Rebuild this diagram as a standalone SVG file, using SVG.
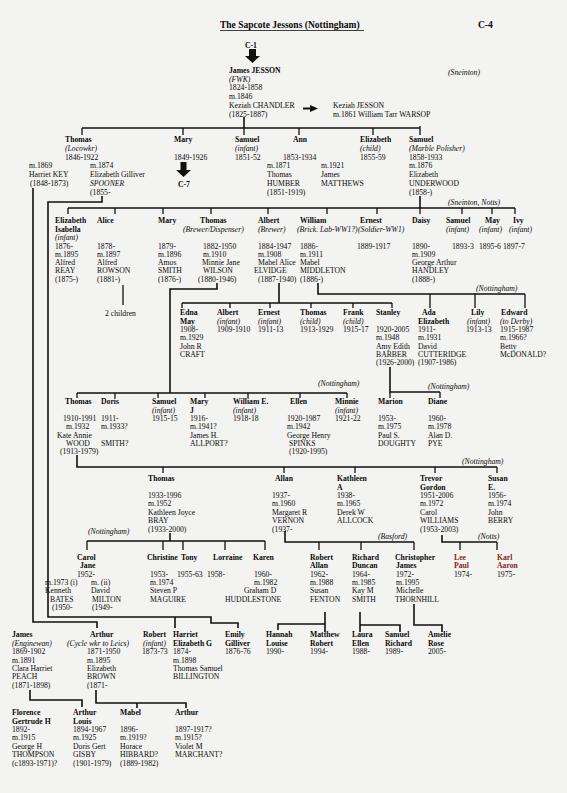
<svg xmlns="http://www.w3.org/2000/svg" width="567" height="793" viewBox="0 0 567 793">
<style>
text{font-family:"Liberation Serif","Times New Roman",serif;font-size:7.7px;fill:#0a0a0a}
.b{font-weight:bold}
.i{font-style:italic}
.r{fill:#8a1c1c}
.ln{stroke:#111;stroke-width:1.6;fill:none}
.tk{stroke:#111;stroke-width:1.3;fill:none}
</style>
<rect width="567" height="793" fill="#f3f3f1"/>
<g id="header">
<text x="220" y="28" class="b" style="font-size:9.5px">The Sapcote Jessons (Nottingham)</text>
<line x1="220" y1="30.5" x2="364" y2="30.5" stroke="#111" stroke-width="0.8"/>
<text x="478" y="28" class="b" style="font-size:9.5px">C-4</text>
</g>
<g id="connectors">
<path class="ln" d="M244 117V128M82 128H420"/>
<path class="tk" d="M82 128V135M183 128V135M244 128V135M299 128V135M373 128V135M420 126V135"/>
<path class="ln" d="M33 188V622H97V628"/>
<path class="ln" d="M102 196V202H48V617H211V623H238V628M175 617V628"/>
<path class="ln" d="M420 196V208M68 208H515"/>
<path class="tk" d="M68 208V214M115 208V214M163 208V214M211 208V214M268 208V214M327 208V214M377 208V214M420 208V214M462 208V214M492 208V214M515 208V214"/>
<path class="tk" d="M123 285V305"/>
<path class="ln" d="M217 283V289H170V393M77 393H347"/>
<path class="tk" d="M77 393V398M115 393V398M158 393V398M205 393V398M248 393V398M300 393V398M347 393V398"/>
<path class="ln" d="M279 283V303M182 303H392"/>
<path class="tk" d="M182 303V308M230 303V308M270 303V308M311 303V308M353 303V308M392 303V308"/>
<path class="ln" d="M318 283V294H525"/>
<path class="tk" d="M430 294V308M475 294V308M525 294V308"/>
<path class="ln" d="M390 367V392H440"/>
<path class="tk" d="M390 392V398M440 392V398"/>
<path class="ln" d="M77 455V467H497"/>
<path class="tk" d="M163 467V473M284 467V473M355 467V473M435 467V473M497 467V473"/>
<path class="ln" d="M170 533V541M87 541H265"/>
<path class="tk" d="M87 541V550M163 541V550M183 541V550M225 541V550M265 541V550"/>
<path class="ln" d="M285 531V542H414"/>
<path class="tk" d="M319 542V550M361 542V550M414 542V550"/>
<path class="ln" d="M442 535V542H497"/>
<path class="tk" d="M460 542V550M497 542V550"/>
<path class="ln" d="M325 612V632M325 624H278V630"/>
<path class="ln" d="M360 612V632M360 625H400V632"/>
<path class="ln" d="M414 604V625H442V632"/>
<path class="ln" d="M30 690V700H82V707"/>
<path class="ln" d="M96 690V703H186V708M137 703V708"/>
</g>
<g id="arrows" fill="#111">
<text x="245" y="48" class="b">C-1</text>
<polygon points="249,49 256,49 256,56 260,56 252.5,63 245,56 249,56"/>
<polygon points="180.5,162 186.5,162 186.5,170 191,170 183.5,177 176,170 180.5,170"/>
<path d="M303 108.5H311" stroke="#111" stroke-width="2"/>
<polygon points="310,105 318,108.5 310,112"/>
</g>
<g id="james">
<text x="229" y="73" class="b">James JESSON</text>
<text x="229" y="81.5" class="i">(FWK)</text>
<text x="229" y="90">1824-1858</text>
<text x="229" y="99">m.1846</text>
<text x="229" y="108">Keziah CHANDLER</text>
<text x="229" y="116.5">(1825-1887)</text>
</g>
<g id="keziah">
<text x="333" y="108">Keziah JESSON</text>
<text x="333" y="116.5">m.1861 William Tarr WARSOP</text>
</g>
<text x="448" y="75" class="i">(Sneinton)</text>
<g id="thomas1846">
<text x="65" y="142" class="b">Thomas</text>
<text x="65" y="150.5" class="i">(Locowkr)</text>
<text x="65" y="159.5">1846-1922</text>
<text x="29" y="168">m.1869</text>
<text x="29" y="177">Harriet KEY</text>
<text x="30" y="186">(1848-1873)</text>
<text x="90" y="168">m.1874</text>
<text x="90" y="177">Elizabeth Gilliver</text>
<text x="90" y="186" class="i">SPOONER</text>
<text x="90" y="195">(1855-</text>
</g>
<g id="mary1849">
<text x="174" y="142" class="b">Mary</text>
<text x="174" y="159.5">1849-1926</text>
<text x="178" y="187" class="b">C-7</text>
</g>
<g id="samuel1851">
<text x="235" y="142" class="b">Samuel</text>
<text x="235" y="150.5" class="i">(infant)</text>
<text x="235" y="159.5">1851-52</text>
</g>
<g id="ann1853">
<text x="293" y="142" class="b">Ann</text>
<text x="283" y="159.5">1853-1934</text>
<text x="267" y="168">m.1871</text>
<text x="267" y="177">Thomas</text>
<text x="267" y="186">HUMBER</text>
<text x="267" y="195">(1851-1919)</text>
<text x="321" y="168">m.1921</text>
<text x="321" y="177">James</text>
<text x="321" y="186">MATTHEWS</text>
</g>
<g id="elizabeth1855">
<text x="360" y="142" class="b">Elizabeth</text>
<text x="360" y="150.5" class="i">(child)</text>
<text x="360" y="159.5">1855-59</text>
</g>
<g id="samuel1858">
<text x="409" y="142" class="b">Samuel</text>
<text x="409" y="150.5" class="i">(Marble Polisher)</text>
<text x="409" y="159.5">1858-1933</text>
<text x="409" y="168">m.1876</text>
<text x="409" y="177">Elizabeth</text>
<text x="409" y="186">UNDERWOOD</text>
<text x="409" y="195">(1858-)</text>
</g>
<text x="448" y="205" class="i">(Sneinton, Notts)</text>
<g id="elizabeth1876">
<text x="55" y="223" class="b">Elizabeth</text>
<text x="55" y="231.5" class="b">Isabella</text>
<text x="55" y="240" class="i">(infant)</text>
<text x="55" y="248.5">1876-</text>
<text x="55" y="256.5">m.1895</text>
<text x="55" y="265">Alfred</text>
<text x="55" y="273">REAY</text>
<text x="55" y="281.5">(1875-)</text>
</g>
<g id="alice1878">
<text x="97" y="223" class="b">Alice</text>
<text x="97" y="248.5">1878-</text>
<text x="97" y="256.5">m.1897</text>
<text x="97" y="265">Alfred</text>
<text x="97" y="273">ROWSON</text>
<text x="97" y="281.5">(1881-)</text>
<text x="105" y="316">2 children</text>
</g>
<g id="mary1879">
<text x="158" y="223" class="b">Mary</text>
<text x="158" y="248.5">1879-</text>
<text x="158" y="256.5">m.1896</text>
<text x="158" y="265">Amos</text>
<text x="158" y="273">SMITH</text>
<text x="158" y="281.5">(1876-)</text>
</g>
<g id="thomas1882">
<text x="200" y="223" class="b">Thomas</text>
<text x="183" y="231.5" class="i">(Brewer/Dispenser)</text>
<text x="203" y="248.5">1882-1950</text>
<text x="203" y="256.5">m.1910</text>
<text x="202" y="265">Minnie Jane</text>
<text x="203" y="273">WILSON</text>
<text x="198" y="281.5">(1880-1946)</text>
</g>
<g id="albert1884">
<text x="258" y="223" class="b">Albert</text>
<text x="258" y="231.5" class="i">(Brewer)</text>
<text x="258" y="248.5">1884-1947</text>
<text x="258" y="256.5">m.1908</text>
<text x="258" y="265">Mabel Alice</text>
<text x="254" y="273">ELVIDGE</text>
<text x="258" y="281.5">(1887-1940)</text>
</g>
<g id="william1886">
<text x="300" y="223" class="b">William</text>
<text x="297" y="231.5" class="i">(Brick. Lab-WW1?)</text>
<text x="300" y="248.5">1886-</text>
<text x="300" y="256.5">m.1911</text>
<text x="300" y="265">Mabel</text>
<text x="300" y="273">MIDDLETON</text>
<text x="300" y="281.5">(1886-)</text>
</g>
<g id="ernest1889">
<text x="360" y="223" class="b">Ernest</text>
<text x="358" y="231.5" class="i">(Soldier-WW1)</text>
<text x="357" y="248.5">1889-1917</text>
</g>
<g id="daisy1890">
<text x="412" y="223" class="b">Daisy</text>
<text x="412" y="248.5">1890-</text>
<text x="412" y="256.5">m.1909</text>
<text x="412" y="265">George Arthur</text>
<text x="412" y="273">HANDLEY</text>
<text x="412" y="281.5">(1888-)</text>
</g>
<g id="samuel1893">
<text x="446" y="223" class="b">Samuel</text>
<text x="446" y="231.5" class="i">(infant)</text>
<text x="452" y="248.5">1893-3</text>
</g>
<g id="may1895">
<text x="485" y="223" class="b">May</text>
<text x="479" y="231.5" class="i">(infant)</text>
<text x="479" y="248.5">1895-6</text>
</g>
<g id="ivy1897">
<text x="513" y="223" class="b">Ivy</text>
<text x="509" y="231.5" class="i">(infant)</text>
<text x="503" y="248.5">1897-7</text>
</g>
<text x="476" y="291" class="i">(Nottingham)</text>
<g id="edna1908">
<text x="180" y="315" class="b">Edna</text>
<text x="180" y="324" class="b">May</text>
<text x="180" y="332">1908-</text>
<text x="180" y="340">m.1929</text>
<text x="180" y="349">John R</text>
<text x="180" y="357">CRAFT</text>
</g>
<g id="albert1909">
<text x="217" y="315" class="b">Albert</text>
<text x="217" y="324" class="i">(infant)</text>
<text x="217" y="332">1909-1910</text>
</g>
<g id="ernest1911">
<text x="258" y="315" class="b">Ernest</text>
<text x="258" y="324" class="i">(infant)</text>
<text x="258" y="332">1911-13</text>
</g>
<g id="thomas1913">
<text x="300" y="315" class="b">Thomas</text>
<text x="300" y="324" class="i">(child)</text>
<text x="300" y="332">1913-1929</text>
</g>
<g id="frank1915">
<text x="343" y="315" class="b">Frank</text>
<text x="343" y="324" class="i">(child)</text>
<text x="343" y="332">1915-17</text>
</g>
<g id="stanley1920">
<text x="376" y="315" class="b">Stanley</text>
<text x="376" y="332">1920-2005</text>
<text x="376" y="340">m.1948</text>
<text x="376" y="349">Amy Edith</text>
<text x="376" y="357">BARBER</text>
<text x="376" y="365">(1926-2000)</text>
</g>
<g id="ada1911">
<text x="422" y="315" class="b">Ada</text>
<text x="418" y="324" class="b">Elizabeth</text>
<text x="418" y="332">1911-</text>
<text x="418" y="340">m.1931</text>
<text x="418" y="349">David</text>
<text x="418" y="357">CUTTERIDGE</text>
<text x="418" y="365">(1907-1986)</text>
</g>
<g id="lily1913">
<text x="471" y="315" class="b">Lily</text>
<text x="467" y="324" class="i">(infant)</text>
<text x="466" y="332">1913-13</text>
</g>
<g id="edward1915">
<text x="501" y="315" class="b">Edward</text>
<text x="500" y="324" class="i">(to Derby)</text>
<text x="500" y="332">1915-1987</text>
<text x="500" y="340">m.1966?</text>
<text x="500" y="349">Betty</text>
<text x="500" y="357">McDONALD?</text>
</g>
<text x="428" y="389" class="i">(Nottingham)</text>
<text x="318" y="386" class="i">(Nottingham)</text>
<g id="thomas1910">
<text x="65" y="404" class="b">Thomas</text>
<text x="63" y="421">1910-1991</text>
<text x="66" y="429">m.1932</text>
<text x="57" y="437.5">Kate Annie</text>
<text x="66" y="445.5">WOOD</text>
<text x="60" y="454">(1913-1979)</text>
</g>
<g id="doris1911">
<text x="101" y="404" class="b">Doris</text>
<text x="101" y="421">1911-</text>
<text x="101" y="429">m.1933?</text>
<text x="101" y="445.5">SMITH?</text>
</g>
<g id="samuel1915">
<text x="152" y="404" class="b">Samuel</text>
<text x="152" y="412.5" class="i">(infant)</text>
<text x="152" y="421">1915-15</text>
</g>
<g id="maryj1916">
<text x="190" y="404" class="b">Mary</text>
<text x="190" y="412.5" class="b">J</text>
<text x="190" y="421">1916-</text>
<text x="190" y="429">m.1941?</text>
<text x="190" y="437.5">James H.</text>
<text x="190" y="445.5">ALLPORT?</text>
</g>
<g id="williame1918">
<text x="233" y="404" class="b">William E.</text>
<text x="233" y="412.5" class="i">(infant)</text>
<text x="233" y="421">1918-18</text>
</g>
<g id="ellen1920">
<text x="290" y="404" class="b">Ellen</text>
<text x="287" y="421">1920-1987</text>
<text x="287" y="429">m.1942</text>
<text x="287" y="437.5">George Henry</text>
<text x="289" y="445.5">SPINKS</text>
<text x="289" y="454">(1920-1995)</text>
</g>
<g id="minnie1921">
<text x="335" y="404" class="b">Minnie</text>
<text x="335" y="412.5" class="i">(infant)</text>
<text x="335" y="421">1921-22</text>
</g>
<g id="marion1953">
<text x="378" y="404" class="b">Marion</text>
<text x="378" y="421">1953-</text>
<text x="378" y="429">m.1975</text>
<text x="378" y="437.5">Paul S.</text>
<text x="378" y="445.5">DOUGHTY</text>
</g>
<g id="diane1960">
<text x="428" y="404" class="b">Diane</text>
<text x="428" y="421">1960-</text>
<text x="428" y="429">m.1978</text>
<text x="428" y="437.5">Alan D.</text>
<text x="428" y="445.5">PYE</text>
</g>
<text x="462" y="464" class="i">(Nottingham)</text>
<g id="thomas1933">
<text x="148" y="481" class="b">Thomas</text>
<text x="148" y="498">1933-1996</text>
<text x="148" y="506">m.1952</text>
<text x="148" y="514.5">Kathleen Joyce</text>
<text x="148" y="523">BRAY</text>
<text x="148" y="531.5">(1933-2000)</text>
</g>
<g id="allan1937">
<text x="275" y="481" class="b">Allan</text>
<text x="272" y="498">1937-</text>
<text x="272" y="506">m.1960</text>
<text x="272" y="514.5">Margaret R</text>
<text x="272" y="523">VERNON</text>
<text x="272" y="531.5">(1937-</text>
</g>
<g id="kathleen1938">
<text x="337" y="481" class="b">Kathleen</text>
<text x="337" y="489.5" class="b">A</text>
<text x="337" y="498">1938-</text>
<text x="337" y="506">m.1965</text>
<text x="337" y="514.5">Derek W</text>
<text x="337" y="523">ALLCOCK</text>
</g>
<g id="trevor1951">
<text x="420" y="481" class="b">Trevor</text>
<text x="420" y="489.5" class="b">Gordon</text>
<text x="420" y="498">1951-2006</text>
<text x="420" y="506">m.1972</text>
<text x="420" y="514.5">Carol</text>
<text x="420" y="523">WILLIAMS</text>
<text x="420" y="531.5">(1953-2003)</text>
</g>
<g id="susan1956">
<text x="488" y="481" class="b">Susan</text>
<text x="488" y="489.5" class="b">E.</text>
<text x="488" y="498">1956-</text>
<text x="488" y="506">m.1974</text>
<text x="488" y="514.5">John</text>
<text x="488" y="523">BERRY</text>
</g>
<text x="88" y="534" class="i">(Nottingham)</text>
<text x="378" y="539" class="i">(Basford)</text>
<text x="478" y="539" class="i">(Notts)</text>
<g id="carol1952">
<text x="77" y="560" class="b">Carol</text>
<text x="80" y="568" class="b">Jane</text>
<text x="77" y="576.5">1952-</text>
<text x="45" y="585">m.1973 (i)</text>
<text x="45" y="593">Kenneth</text>
<text x="50" y="601.5">BATES</text>
<text x="52" y="610">(1950-</text>
<text x="91" y="585">m. (ii)</text>
<text x="91" y="593">David</text>
<text x="92" y="601.5">MILTON</text>
<text x="92" y="610">(1949-</text>
</g>
<g id="christine1953">
<text x="147" y="560" class="b">Christine</text>
<text x="150" y="576.5">1953-</text>
<text x="150" y="585">m.1974</text>
<text x="150" y="593">Steven P</text>
<text x="150" y="601.5">MAGUIRE</text>
</g>
<g id="tony1955">
<text x="181" y="560" class="b">Tony</text>
<text x="177" y="576.5">1955-63</text>
</g>
<g id="lorraine1958">
<text x="213" y="560" class="b">Lorraine</text>
<text x="207" y="576.5">1958-</text>
</g>
<g id="karen1960">
<text x="253" y="560" class="b">Karen</text>
<text x="254" y="576.5">1960-</text>
<text x="254" y="585">m.1982</text>
<text x="244" y="593">Graham D</text>
<text x="225" y="601.5">HUDDLESTONE</text>
</g>
<g id="robert1962">
<text x="310" y="560" class="b">Robert</text>
<text x="310" y="568" class="b">Allan</text>
<text x="310" y="576.5">1962-</text>
<text x="310" y="585">m.1988</text>
<text x="310" y="593">Susan</text>
<text x="310" y="601.5">FENTON</text>
</g>
<g id="richard1964">
<text x="352" y="560" class="b">Richard</text>
<text x="352" y="568" class="b">Duncan</text>
<text x="352" y="576.5">1964-</text>
<text x="352" y="585">m.1985</text>
<text x="352" y="593">Kay M</text>
<text x="352" y="601.5">SMITH</text>
</g>
<g id="christopher1972">
<text x="395" y="560" class="b">Christopher</text>
<text x="396" y="568" class="b">James</text>
<text x="396" y="576.5">1972-</text>
<text x="396" y="585">m.1995</text>
<text x="396" y="593">Michelle</text>
<text x="395" y="601.5">THORNHILL</text>
</g>
<g id="lee1974">
<text x="454" y="560" class="b r">Lee</text>
<text x="454" y="568" class="b r">Paul</text>
<text x="454" y="576.5">1974-</text>
</g>
<g id="karl1975">
<text x="497" y="560" class="b r">Karl</text>
<text x="497" y="568" class="b r">Aaron</text>
<text x="497" y="576.5">1975-</text>
</g>
<g id="hannah1990">
<text x="266" y="637" class="b">Hannah</text>
<text x="266" y="645.5" class="b">Louise</text>
<text x="266" y="654">1990-</text>
</g>
<g id="matthew1994">
<text x="310" y="637" class="b">Matthew</text>
<text x="310" y="645.5" class="b">Robert</text>
<text x="310" y="654">1994-</text>
</g>
<g id="laura1988">
<text x="352" y="637" class="b">Laura</text>
<text x="352" y="645.5" class="b">Ellen</text>
<text x="352" y="654">1988-</text>
</g>
<g id="samuel1989">
<text x="385" y="637" class="b">Samuel</text>
<text x="385" y="645.5" class="b">Richard</text>
<text x="385" y="654">1989-</text>
</g>
<g id="amelie2005">
<text x="428" y="637" class="b">Amelie</text>
<text x="428" y="645.5" class="b">Rose</text>
<text x="428" y="654">2005-</text>
</g>
<g id="james1869">
<text x="12" y="637" class="b">James</text>
<text x="12" y="645.5" class="i">(Enginewan)</text>
<text x="12" y="654">1869-1902</text>
<text x="12" y="662.5">m.1891</text>
<text x="12" y="671">Clara Harriet</text>
<text x="12" y="679">PEACH</text>
<text x="12" y="687.5">(1871-1898)</text>
</g>
<g id="arthur1871">
<text x="90" y="637" class="b">Arthur</text>
<text x="67" y="645.5" class="i">(Cycle wkr to Leics)</text>
<text x="87" y="654">1871-1950</text>
<text x="87" y="662.5">m.1895</text>
<text x="87" y="671">Elizabeth</text>
<text x="87" y="679">BROWN</text>
<text x="87" y="687.5">(1871-</text>
</g>
<g id="robert1873">
<text x="143" y="637" class="b">Robert</text>
<text x="143" y="645.5" class="i">(infant)</text>
<text x="142" y="654">1873-73</text>
</g>
<g id="harriet1874">
<text x="173" y="637" class="b">Harriet</text>
<text x="173" y="645.5" class="b">Elizabeth G</text>
<text x="173" y="654">1874-</text>
<text x="173" y="662.5">m.1898</text>
<text x="173" y="671">Thomas Samuel</text>
<text x="173" y="679">BILLINGTON</text>
</g>
<g id="emily1876">
<text x="225" y="637" class="b">Emily</text>
<text x="225" y="645.5" class="b">Gilliver</text>
<text x="225" y="654">1876-76</text>
</g>
<g id="florence1892">
<text x="12" y="715" class="b">Florence</text>
<text x="12" y="723.5" class="b">Gertrude H</text>
<text x="12" y="732">1892-</text>
<text x="12" y="740">m.1915</text>
<text x="12" y="748.5">George H</text>
<text x="12" y="757">THOMPSON</text>
<text x="12" y="765.5">(c1893-1971)?</text>
</g>
<g id="arthur1894">
<text x="73" y="715" class="b">Arthur</text>
<text x="73" y="723.5" class="b">Louis</text>
<text x="73" y="732">1894-1967</text>
<text x="73" y="740">m.1925</text>
<text x="73" y="748.5">Doris Gert</text>
<text x="73" y="757">GISBY</text>
<text x="73" y="765.5">(1901-1979)</text>
</g>
<g id="mabel1896">
<text x="120" y="715" class="b">Mabel</text>
<text x="120" y="732">1896-</text>
<text x="120" y="740">m.1919?</text>
<text x="120" y="748.5">Horace</text>
<text x="120" y="757">HIBBARD?</text>
<text x="120" y="765.5">(1889-1982)</text>
</g>
<g id="arthur1897">
<text x="175" y="715" class="b">Arthur</text>
<text x="175" y="732">1897-1917?</text>
<text x="175" y="740">m.1915?</text>
<text x="175" y="748.5">Violet M</text>
<text x="175" y="757">MARCHANT?</text>
</g>
</svg>
